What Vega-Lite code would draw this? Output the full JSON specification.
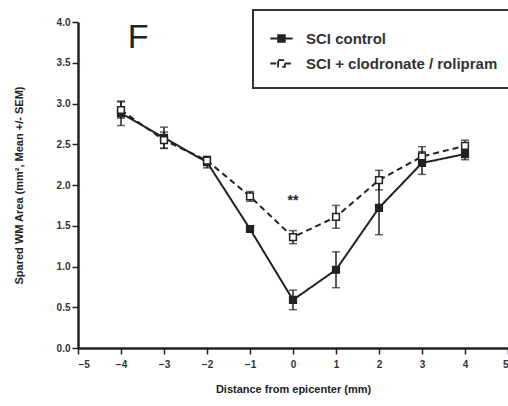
{
  "$schema": "https://vega.github.io/schema/vega-lite/v6.json",
  "width": 430,
  "height": 326,
  "autosize": {"type": "none"},
  "padding": {"left": 78, "top": 22, "right": 0, "bottom": 58},
  "background": "white",
  "config": {
    "font": "Liberation Sans",
    "view": {"stroke": null},
    "axis": {
      "domainColor": "#222",
      "domainWidth": 2.5,
      "tickColor": "#222",
      "tickWidth": 1.5,
      "tickSize": 6,
      "grid": false,
      "labelFont": "Liberation Sans",
      "labelFontWeight": "bold",
      "labelFontSize": 10,
      "labelColor": "#333",
      "titleFont": "Liberation Sans",
      "titleFontWeight": "bold",
      "titleFontSize": 11,
      "titleColor": "#222"
    }
  },
  "datasets": {
    "means": [
      {"x": -4, "group": "SCI control", "mean": 2.88, "lo": 2.73, "hi": 3.03},
      {"x": -3, "group": "SCI control", "mean": 2.58, "lo": 2.45, "hi": 2.71},
      {"x": -2, "group": "SCI control", "mean": 2.28, "lo": 2.21, "hi": 2.35},
      {"x": -1, "group": "SCI control", "mean": 1.46, "lo": 1.42, "hi": 1.5},
      {"x": 0, "group": "SCI control", "mean": 0.59, "lo": 0.47, "hi": 0.71},
      {"x": 1, "group": "SCI control", "mean": 0.96, "lo": 0.74, "hi": 1.18},
      {"x": 2, "group": "SCI control", "mean": 1.72, "lo": 1.39, "hi": 2.05},
      {"x": 3, "group": "SCI control", "mean": 2.27, "lo": 2.13, "hi": 2.41},
      {"x": 4, "group": "SCI control", "mean": 2.38, "lo": 2.31, "hi": 2.45},
      {"x": -4, "group": "SCI + clodronate / rolipram", "mean": 2.92, "lo": 2.82, "hi": 3.02},
      {"x": -3, "group": "SCI + clodronate / rolipram", "mean": 2.55, "lo": 2.45, "hi": 2.65},
      {"x": -2, "group": "SCI + clodronate / rolipram", "mean": 2.3, "lo": 2.25, "hi": 2.35},
      {"x": -1, "group": "SCI + clodronate / rolipram", "mean": 1.86, "lo": 1.8, "hi": 1.92},
      {"x": 0, "group": "SCI + clodronate / rolipram", "mean": 1.36, "lo": 1.28, "hi": 1.44},
      {"x": 1, "group": "SCI + clodronate / rolipram", "mean": 1.61, "lo": 1.47, "hi": 1.75},
      {"x": 2, "group": "SCI + clodronate / rolipram", "mean": 2.06, "lo": 1.94, "hi": 2.18},
      {"x": 3, "group": "SCI + clodronate / rolipram", "mean": 2.35, "lo": 2.23, "hi": 2.47},
      {"x": 4, "group": "SCI + clodronate / rolipram", "mean": 2.48, "lo": 2.41, "hi": 2.55}
    ],
    "notes": [
      {"x": 0, "y": 1.8, "label": "**", "kind": "sig"},
      {"x": -3.6, "y": 3.8, "label": "F", "kind": "panel"}
    ]
  },
  "layer": [
    {
      "data": {"name": "means"},
      "mark": {"type": "rule", "color": "#222", "strokeWidth": 1.5},
      "encoding": {
        "x": {"field": "x", "type": "quantitative", "scale": {"domain": [-5, 5], "nice": false}, "axis": {"values": [-5,-4,-3,-2,-1,0,1,2,3,4,5], "title": "Distance from epicenter (mm)", "titlePadding": 14, "labelPadding": 5}},
        "y": {"field": "lo", "type": "quantitative", "scale": {"domain": [0, 4], "nice": false}, "axis": {"values": [0,0.5,1,1.5,2,2.5,3,3.5,4], "format": ".1f", "title": "Spared WM Area (mm², Mean +/- SEM)", "titlePadding": 32}},
        "y2": {"field": "hi"}
      }
    },
    {
      "data": {"name": "means"},
      "mark": {"type": "tick", "color": "#222", "orient": "horizontal", "size": 8, "thickness": 1.5},
      "encoding": {
        "x": {"field": "x", "type": "quantitative"},
        "y": {"field": "lo", "type": "quantitative"}
      }
    },
    {
      "data": {"name": "means"},
      "mark": {"type": "tick", "color": "#222", "orient": "horizontal", "size": 8, "thickness": 1.5},
      "encoding": {
        "x": {"field": "x", "type": "quantitative"},
        "y": {"field": "hi", "type": "quantitative"}
      }
    },
    {
      "data": {"name": "means"},
      "mark": {"type": "line", "color": "#222", "strokeWidth": 2},
      "encoding": {
        "x": {"field": "x", "type": "quantitative"},
        "y": {"field": "mean", "type": "quantitative"},
        "strokeDash": {
          "field": "group", "type": "nominal",
          "scale": {"domain": ["SCI control", "SCI + clodronate / rolipram"], "range": [[1, 0], [6, 4]]},
          "legend": {
            "title": null, "orient": "none", "legendX": 175, "legendY": -12,
            "symbolType": "M-1,0H-0.3M0.3,0H1M-0.3,-0.3H0.3V0.3H-0.3Z",
            "symbolSize": 500, "symbolStrokeColor": "#222", "symbolStrokeWidth": 1.8,
            "labelFont": "Liberation Sans", "labelFontWeight": "bold", "labelFontSize": 15, "labelColor": "#333", "labelOffset": 12,
            "rowPadding": 4, "padding": 16, "strokeColor": "#333", "fillColor": "white", "labelLimit": 400,
            "encode": {"legend": {"update": {"strokeWidth": {"value": 2}}}}
          }
        }
      }
    },
    {
      "data": {"name": "means"},
      "mark": {"type": "point", "shape": "square", "size": 45, "stroke": "#222", "strokeWidth": 1.5, "opacity": 1},
      "encoding": {
        "x": {"field": "x", "type": "quantitative"},
        "y": {"field": "mean", "type": "quantitative"},
        "fill": {
          "field": "group", "type": "nominal",
          "scale": {"domain": ["SCI control", "SCI + clodronate / rolipram"], "range": ["#222", "white"]},
          "legend": {
            "title": null, "orient": "none", "legendX": 175, "legendY": -12,
            "symbolType": "M-1,0H-0.3M0.3,0H1M-0.3,-0.3H0.3V0.3H-0.3Z",
            "symbolSize": 500, "symbolStrokeColor": "#222", "symbolStrokeWidth": 1.8,
            "labelFont": "Liberation Sans", "labelFontWeight": "bold", "labelFontSize": 15, "labelColor": "#333", "labelOffset": 12,
            "rowPadding": 4, "padding": 16, "strokeColor": "#333", "fillColor": "white", "labelLimit": 400,
            "encode": {"legend": {"update": {"strokeWidth": {"value": 2}}}}
          }
        }
      }
    },
    {
      "data": {"name": "notes"},
      "transform": [{"filter": "datum.kind === 'sig'"}],
      "mark": {"type": "text", "fontSize": 14, "fontWeight": "bold", "color": "#222", "baseline": "middle"},
      "encoding": {
        "x": {"field": "x", "type": "quantitative"},
        "y": {"field": "y", "type": "quantitative"},
        "text": {"field": "label"}
      }
    },
    {
      "data": {"name": "notes"},
      "transform": [{"filter": "datum.kind === 'panel'"}],
      "mark": {"type": "text", "fontSize": 34, "color": "#222", "baseline": "middle", "font": "Liberation Sans"},
      "encoding": {
        "x": {"field": "x", "type": "quantitative"},
        "y": {"field": "y", "type": "quantitative"},
        "text": {"field": "label"}
      }
    }
  ]
}
